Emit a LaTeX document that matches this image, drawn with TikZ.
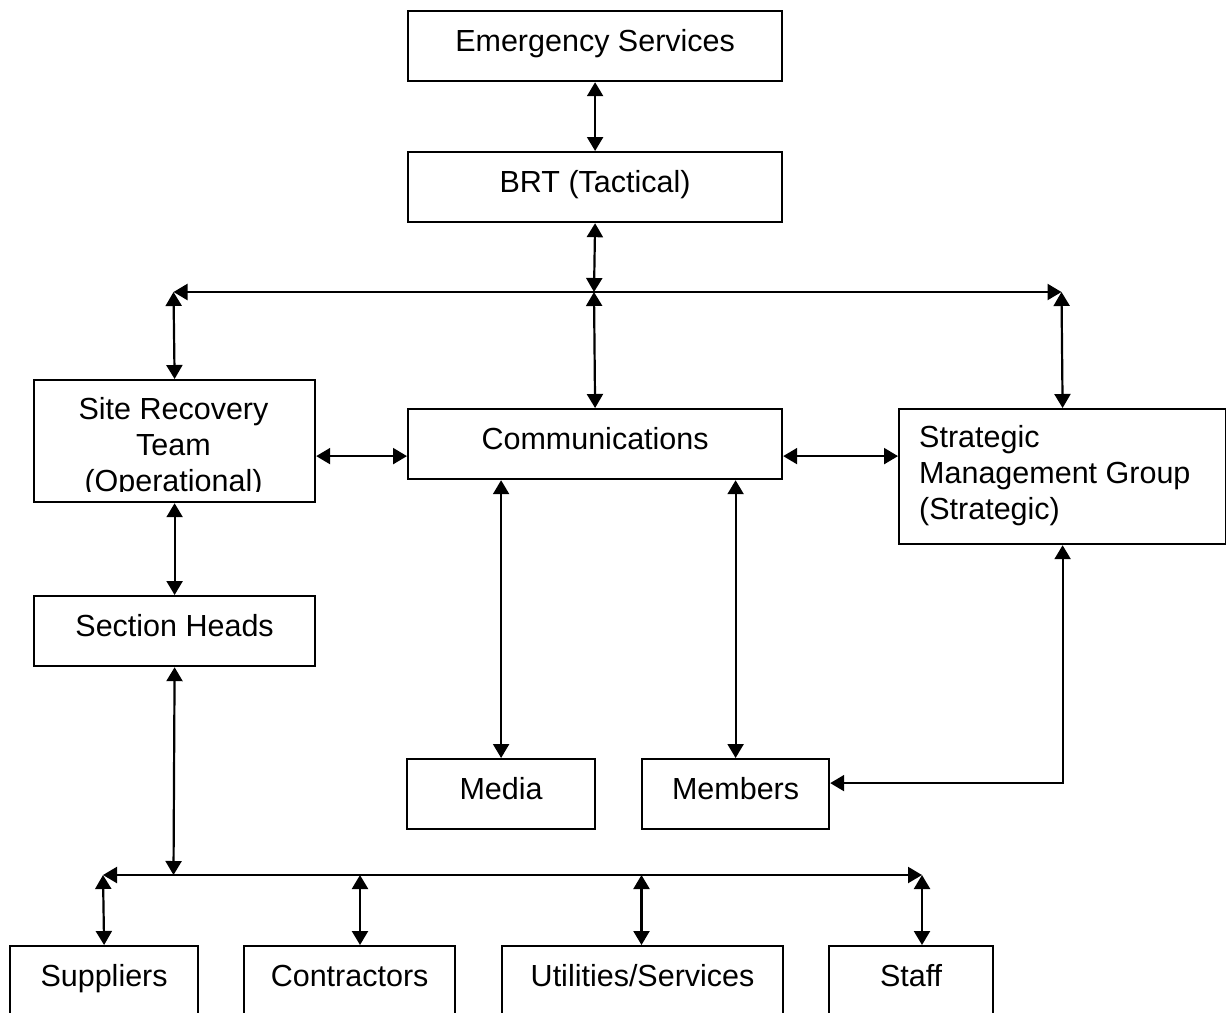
\documentclass[tikz,border=0pt]{standalone}
\usepackage{fontspec}
\setmainfont{Liberation Sans}
\usetikzlibrary{arrows.meta}
\begin{document}
\begin{tikzpicture}[x=1pt,y=-1pt,
  txt/.style={font=\fontsize{30.5}{36}\selectfont},
  box/.style={draw, line width=2.2pt, anchor=north west, inner sep=0pt,
    minimum height=70pt, text height=22pt, text depth=12pt, txt},
  frame/.style={draw, line width=2.2pt, anchor=north west, inner sep=0pt},
  lbl/.style={inner sep=0pt, txt},
  link/.style={line width=2.2pt,
    {Triangle[length=14pt,width=16pt]}-{Triangle[length=14pt,width=16pt]}}]
\useasboundingbox[fill=white] (0,0) rectangle (1226,1012);

% boxes
\node[box, minimum width=374pt] (es) at (407,10) {Emergency Services};
\node[box, minimum width=374pt] (brt) at (407,151) {BRT (Tactical)};
\node[frame, minimum width=281pt, minimum height=122pt] (srt) at (33,379) {};
\node[box, minimum width=374pt] (comm) at (407,408) {Communications};
\node[frame, minimum width=327pt, minimum height=135pt] (smg) at (898,408) {};
\node[box, minimum width=281pt] (sh) at (33,595) {Section Heads};
\node[box, minimum width=188pt] (media) at (406,758) {Media};
\node[box, minimum width=187pt] (members) at (641,758) {Members};
\node[box, minimum width=188pt] (sup) at (9,945) {Suppliers};
\node[box, minimum width=211pt] (con) at (243,945) {Contractors};
\node[box, minimum width=281pt] (util) at (501,945) {Utilities/Services};
\node[box, minimum width=164pt] (staff) at (828,945) {Staff};

% multi-line labels (base anchor sits on the last line)
\begin{scope}
  \clip (34,380) rectangle (313,491);
  \node[lbl, align=center, anchor=base] (srttext) at (173.5,491)
    {Site Recovery\\Team\\(Operational)};
\end{scope}
\node[lbl, align=left, anchor=base west] (smgtext) at (919,519)
  {Strategic\\Management Group\\(Strategic)};

% junction points
\coordinate (jtop) at (594,292);
\coordinate (jl) at (173.5,292);
\coordinate (jr) at (1061.5,292);
\coordinate (jbot) at (173.5,875);
\coordinate (bl) at (103,875);
\coordinate (br) at (922,875);
\coordinate (bc) at (360,875);
\coordinate (bu) at (641.5,875);
\coordinate (cw) at ([yshift=-12pt]comm.west);
\coordinate (ce) at ([yshift=-12pt]comm.east);
\coordinate (mem) at ([yshift=11pt]members.east);

% connectors
\draw[link] (es) -- (brt);
\draw[link] (brt.south) -- (jtop);
\draw[link] (jl) -- (jr);
\draw[link] (jtop) -- (comm.north);
\draw[link] (jl) -- (srt.north);
\draw[link] (jr) -- (smg.north);
\draw[link] (srt.east |- cw) -- (cw);
\draw[link] (ce) -- (smg.west |- ce);
\draw[link] (comm.south -| media.north) -- (media.north);
\draw[link] (comm.south -| members.north) -- (members.north);
\draw[link] (smg.south) |- (mem);
\draw[link] (srt.south) -- (sh.north);
\draw[link] (sh.south) -- (jbot);
\draw[link] (bl) -- (br);
\draw[link] (bl) -- (sup.north);
\draw[link] (bc) -- (bc |- con.north);
\draw[link] (bu) -- (bu |- util.north);
\draw[link] (br) -- (br |- staff.north);
\end{tikzpicture}
\end{document}
